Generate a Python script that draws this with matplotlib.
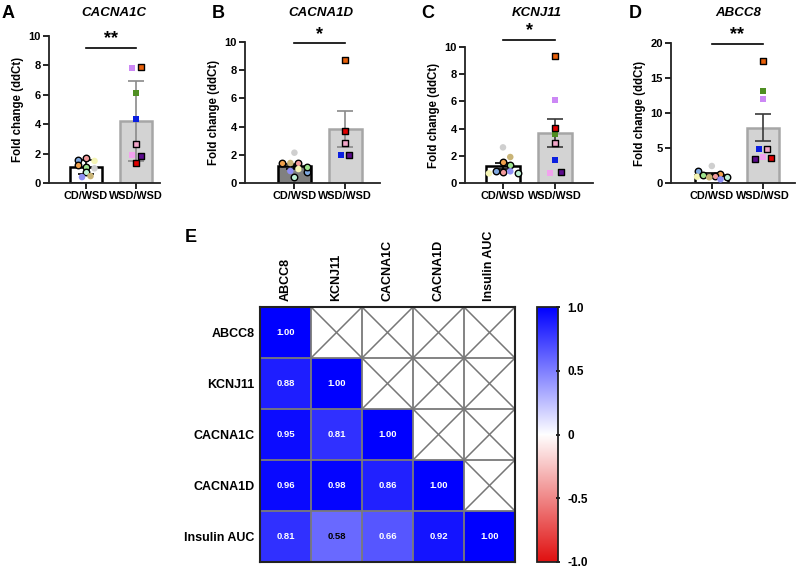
import numpy as np
import matplotlib.pyplot as plt
from matplotlib.colors import LinearSegmentedColormap

plt.rcParams['font.family'] = ['Liberation Sans', 'DejaVu Sans']
plt.rcParams['font.weight'] = 'bold'

W, H = 800, 569
fig = plt.figure(figsize=(8, 5.69), dpi=100)


def px_axes(l, t, r, b):
    return fig.add_axes([l / W, 1 - b / H, (r - l) / W, (b - t) / H])


groups = ['CD/WSD', 'WSD/WSD']
genes = ['CACNA1C', 'CACNA1D', 'KCNJ11', 'ABCC8']
letters = ['A', 'B', 'C', 'D']
stars = ['**', '*', '*', '**']

# one colour per animal, same in every panel
cd_colors = ['#7fa8e0', '#f0a04c', '#f29a9a', '#f4f4b4', '#9ee38e',
             '#cfcfcf', '#bdf2d6', '#8f8ff5', '#c9b477']
cd_edged = [True, True, True, False, True, False, True, False, False]
wsd_colors = ['#e8600a', '#cc88f5', '#4f8f22', '#0a1ee0', '#f2a6c8',
              '#f2a2ee', '#5c0a8c', '#e00000']
wsd_edged = [True, False, False, False, True, False, True, True]

# fold change values (nan = no point)
cd_cacna1c = [1.56, 1.22, 1.68, 1.50, 1.11, 1.00, 0.77, 0.40, 0.47]
wsd_cacna1c = [7.9, 7.8, 6.1, 4.37, 2.65, 1.9, 1.83, 1.34]
cd_cacna1d = [0.76, 1.42, 1.40, 0.99, 1.16, 2.15, 0.45, 0.85, 1.42]
wsd_cacna1d = [8.72, np.nan, np.nan, 1.96, 2.81, np.nan, 1.96, 3.69]
cd_kcnj11 = [0.88, 1.54, 0.81, 0.71, 1.30, 2.62, 0.71, 0.86, 1.91]
wsd_kcnj11 = [9.34, 6.1, 3.6, 1.69, 2.96, 0.71, 0.81, 4.02]
cd_abcc8 = [1.76, 1.29, 0.95, 0.90, 1.10, 2.43, 0.90, 0.52, 0.81]
wsd_abcc8 = [17.4, 12.0, 13.2, 4.9, 4.9, 3.77, 3.38, 3.62]

cd_values = [cd_cacna1c, cd_cacna1d, cd_kcnj11, cd_abcc8]
wsd_values = [wsd_cacna1c, wsd_cacna1d, wsd_kcnj11, wsd_abcc8]
err_kind = ['sd', 'sem', 'sem', 'sem']
y_max = [10, 10, 10, 20]
y_step = [2, 2, 2, 5]
sig_y = [9.2, 9.9, 10.5, 19.9]

# horizontal scatter of the points
cd_jit = [[-0.17, -0.17, 0, 0.17, 0, 0.17, 0, -0.08, 0.09],
          [0.24, -0.25, 0.08, 0.08, 0.24, 0, 0, -0.08, -0.08],
          [-0.14, 0, 0, -0.27, 0.14, 0, 0.28, 0.14, 0.14],
          [-0.28, 0.17, 0.06, -0.29, -0.17, 0, 0.29, 0.17, -0.05]]
wsd_jit = [[0.09, -0.08, 0, 0, 0, -0.08, 0.09, 0],
           [0, 0, 0, -0.09, 0, 0, 0.08, 0],
           [0, 0, 0, 0, 0, -0.1, 0.12, 0],
           [0, 0, 0, -0.08, 0.08, 0, -0.16, 0.16]]

# pixel boxes (left, top, right, bottom) and x limits
boxes = [(49, 36, 160, 183), (245, 42, 380, 183),
         (465, 47, 593, 183), (671, 43, 795, 183)]
xlims = [(-0.74, 1.48), (-0.97, 1.68), (-0.73, 1.73), (-0.8, 1.63)]
cd_fill = ['white', '#808080', 'white', 'white']
title_x = [114, 321, 537, 738]
letter_x = [2, 212, 421, 629]

for i in range(4):
    ax = px_axes(*boxes[i])
    cd = np.array(cd_values[i])
    wsd = np.array(wsd_values[i])
    for k, (vals, jit, cols, edged) in enumerate(
            [(cd, cd_jit[i], cd_colors, cd_edged),
             (wsd, wsd_jit[i], wsd_colors, wsd_edged)]):
        v = vals[~np.isnan(vals)]
        m = v.mean()
        e = v.std(ddof=1)
        if err_kind[i] == 'sem':
            e = e / np.sqrt(len(v))
        if k == 0:
            ax.bar(0, m, width=0.64, color=cd_fill[i], edgecolor='black',
                   linewidth=1.8, zorder=1)
            ecol = 'black'
        else:
            ax.bar(1, m, width=0.64, color='#d3d3d3', edgecolor='#a6a6a6',
                   linewidth=1.8, zorder=1)
            ecol = '#8a8a8a' if i < 2 else '#3a3a3a'
        ax.errorbar(k, m, yerr=e, color=ecol, capsize=6, capthick=1.2,
                    elinewidth=1.2, zorder=2)
        mk = 'o' if k == 0 else 's'
        for val, dx, c, ed in zip(vals, jit, cols, edged):
            if np.isnan(val):
                continue
            ax.scatter(k + dx, val, s=22 if k == 0 else 19, marker=mk,
                       color=c, edgecolors='black' if ed else 'none',
                       linewidths=1.0, zorder=3, clip_on=False)
    ax.set_xlim(*xlims[i])
    ax.set_ylim(0, y_max[i])
    ax.set_yticks(np.arange(0, y_max[i] + 1, y_step[i]))
    ax.set_xticks([0, 1])
    ax.set_xticklabels(groups, fontsize=7.8, fontweight='bold')
    for t in ax.get_yticklabels():
        t.set_fontweight('bold')
    ax.tick_params(axis='y', labelsize=8, length=4, width=1.2, pad=2)
    ax.tick_params(axis='x', length=4, width=1.2, pad=2)
    for s in ['top', 'right']:
        ax.spines[s].set_visible(False)
    for s in ['left', 'bottom']:
        ax.spines[s].set_linewidth(1.3)
        ax.spines[s].set_color('#222222')
    ax.set_ylabel('Fold change (ddCt)', fontsize=8.3, fontweight='bold',
                  labelpad=3)
    ax.plot([0, 1], [sig_y[i], sig_y[i]], color='black', lw=1.2,
            clip_on=False)
    ax.text(0.5, sig_y[i] + 0.005 * y_max[i], stars[i], ha='center',
            va='bottom', fontsize=13)
    fig.text(title_x[i] / W, 1 - 13 / H, genes[i], ha='center',
             va='center', fontsize=9.5, style='italic')
    fig.text(letter_x[i] / W, 1 - 13 / H, letters[i], ha='left',
             va='center', fontsize=13)

# correlation heatmap
names = ['ABCC8', 'KCNJ11', 'CACNA1C', 'CACNA1D', 'Insulin AUC']
r_abcc8 = [1.00, 0.88, 0.95, 0.96, 0.81]
r_kcnj11 = [1.00, 0.81, 0.98, 0.58]
r_cacna1c = [1.00, 0.86, 0.66]
r_cacna1d = [1.00, 0.92]
r_insulin = [1.00]

n = len(names)
M = np.full((n, n), np.nan)
for j, col in enumerate([r_abcc8, r_kcnj11, r_cacna1c, r_cacna1d, r_insulin]):
    M[j:, j] = col

cmap = LinearSegmentedColormap.from_list('rwb', ['#e01010', 'white', '#0000ff'])
hx = px_axes(260, 307, 515, 562)
im = hx.imshow(np.ma.masked_invalid(M), cmap=cmap, vmin=-1, vmax=1,
               extent=(0, n, n, 0), aspect='auto')
for r in range(n):
    for c in range(n):
        if np.isnan(M[r, c]):
            hx.plot([c, c + 1], [r, r + 1], color='#777777', lw=1.1)
            hx.plot([c, c + 1], [r + 1, r], color='#777777', lw=1.1)
        else:
            hx.text(c + 0.5, r + 0.5, f'{M[r, c]:.2f}', ha='center',
                    va='center', fontsize=6.8,
                    color='black' if M[r, c] < 0.6 else 'white')
for g in range(1, n):
    hx.axhline(g, color='#7a7a7a', lw=1.3)
    hx.axvline(g, color='#7a7a7a', lw=1.3)
hx.set_xlim(0, n)
hx.set_ylim(n, 0)
hx.set_xticks(np.arange(n) + 0.5)
hx.set_xticklabels(names, rotation=90, fontsize=9)
hx.set_yticks(np.arange(n) + 0.5)
hx.set_yticklabels(names, fontsize=9)
hx.xaxis.tick_top()
hx.tick_params(length=0, pad=4)
for s in hx.spines.values():
    s.set_linewidth(1.5)
    s.set_color('#222222')

cax = px_axes(537, 307, 558, 562)
cb = fig.colorbar(im, cax=cax, ticks=[1, 0.5, 0, -0.5, -1])
cb.ax.set_yticklabels(['1.0', '0.5', '0', '-0.5', '-1.0'], fontsize=8.5)
cb.ax.tick_params(length=3, width=1.2, direction='inout', pad=5)
cb.outline.set_linewidth(1.3)
cb.outline.set_edgecolor('#222222')

fig.text(185 / W, 1 - 238 / H, 'E', ha='left', va='center', fontsize=13)

fig.savefig('out.png', dpi=100)
